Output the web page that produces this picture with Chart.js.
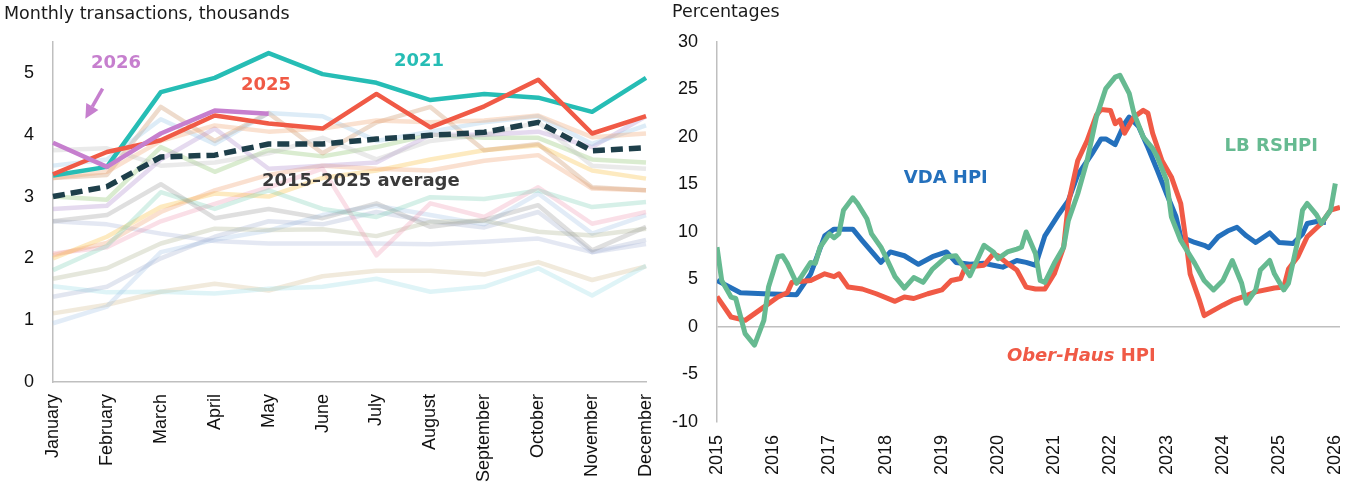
<!DOCTYPE html>
<html><head><meta charset="utf-8">
<script src="https://cdn.jsdelivr.net/npm/chart.js@4.4.1/dist/chart.umd.min.js"></script>
<style>
html,body{margin:0;padding:0;background:#fff;width:1345px;height:492px;overflow:hidden}
canvas{position:absolute;top:0}
#l{left:0}
#r{left:665px}
</style></head><body>
<canvas id="l" width="665" height="492" style="width:665px;height:492px"></canvas>
<canvas id="r" width="680" height="492" style="width:680px;height:492px"></canvas>
<script>
// ---------- Left chart data: monthly transactions, thousands ----------
const monthLabels = ['January','February','March','April','May','June','July','August','September','October','November','December'];
const yTicksLeft = [0,1,2,3,4,5];
const avg2015_2025 = [3.0,3.16,3.64,3.67,3.85,3.85,3.93,3.99,4.04,4.2,3.74,3.79];
const y2021 = [3.34,3.48,4.69,4.92,5.32,4.98,4.84,4.56,4.66,4.6,4.37,4.92];
const y2025 = [3.36,3.72,3.91,4.31,4.18,4.1,4.66,4.12,4.46,4.89,4.02,4.3];
const y2026 = [3.87,3.48,4.02,4.39,4.34];
// other years (faint lines)
const other1  = [1.11,1.25,1.46,1.59,1.48,1.71,1.80,1.80,1.74,1.94,1.65,1.87];
const other2  = [1.55,1.45,1.46,1.43,1.51,1.54,1.67,1.46,1.54,1.84,1.40,1.88];
const other3  = [0.95,1.22,2.1,2.3,2.45,2.7,2.85,2.7,2.55,3.05,2.4,2.7];
const other4  = [1.38,1.54,2.0,2.35,2.6,2.55,2.75,2.6,2.5,2.75,2.1,2.3];
const other5  = [1.67,1.84,2.24,2.48,2.46,2.47,2.36,2.59,2.61,2.43,2.37,2.48];
const other6  = [2.6,2.55,2.4,2.28,2.24,2.24,2.24,2.23,2.27,2.32,2.10,2.23];
const other7  = [2.08,2.18,2.6,2.88,3.15,3.45,2.05,2.89,2.67,3.15,2.56,2.75];
const other8  = [2.0,2.35,2.83,3.05,3.0,3.3,3.42,3.6,3.75,3.83,3.42,3.29];
const other9  = [2.05,2.25,2.75,3.1,3.35,3.5,3.45,3.42,3.58,3.67,3.13,3.1];
const other10 = [1.81,2.2,3.07,2.8,3.1,2.8,2.67,2.99,2.96,3.1,2.83,2.91];
const other11 = [2.6,2.7,3.2,2.65,2.8,2.65,2.89,2.51,2.62,2.86,2.13,2.51];
const other12 = [3.0,2.95,3.8,3.4,3.75,3.65,3.8,4.0,3.95,3.95,3.6,3.55];
const other13 = [3.3,3.35,4.45,3.9,4.35,3.7,4.2,4.45,3.75,3.85,3.15,3.1];
const other14 = [2.8,2.85,3.6,4.1,3.45,3.5,3.55,4.0,4.0,4.05,3.8,4.3];
const other15 = [3.5,3.6,4.25,3.85,4.35,4.3,3.9,4.05,4.2,4.3,3.85,4.15];
const other16 = [3.3,3.4,3.9,4.15,4.05,4.1,4.23,4.2,4.23,4.31,3.96,4.02];
const other17 = [3.75,3.78,3.5,3.55,3.7,3.95,3.6,3.9,4.0,4.2,3.5,3.45];

// ---------- Right chart data: house price growth, percentages ----------
const yearTicks = [2015,2016,2017,2018,2019,2020,2021,2022,2023,2024,2025,2026];
const vdaDates = ['2015-01','2015-06','2015-11','2016-06','2016-09','2016-12','2017-02','2017-06','2017-08','2017-12','2018-02','2018-05','2018-08','2018-11','2019-02','2019-04','2019-07','2019-10','2019-12','2020-02','2020-05','2020-07','2020-09','2020-11','2021-02','2021-04','2021-06','2021-09','2021-11','2021-12','2022-02','2022-04','2022-05','2022-07','2022-09','2022-11','2023-01','2023-03','2023-04','2023-07','2023-09','2023-10','2023-12','2024-02','2024-04','2024-06','2024-08','2024-11','2025-01','2025-04','2025-06','2025-07','2025-09','2025-11'];
const vdaValues = [4.9,3.6,3.5,3.4,5.6,9.6,10.3,10.3,9.1,6.8,7.9,7.5,6.6,7.4,7.9,6.8,6.6,6.7,6.5,6.3,7.0,6.8,6.5,9.6,11.9,13.3,16.0,18.2,19.8,19.8,19.2,21.4,22.1,21.1,18.9,16.5,14.0,11.6,9.5,8.9,8.6,8.35,9.5,10.1,10.5,9.6,8.9,9.9,8.9,8.8,9.8,10.9,11.1,11.0];
const oberDates = ['2015-01','2015-04','2015-07','2015-10','2016-02','2016-04','2016-05','2016-09','2016-12','2017-02','2017-03','2017-05','2017-08','2017-11','2018-03','2018-05','2018-07','2018-10','2019-01','2019-03','2019-05','2019-06','2019-10','2019-12','2020-01','2020-03','2020-05','2020-07','2020-09','2020-11','2021-01','2021-03','2021-04','2021-06','2021-08','2021-10','2021-11','2022-01','2022-02','2022-03','2022-04','2022-06','2022-08','2022-09','2022-10','2022-12','2023-02','2023-04','2023-05','2023-06','2023-08','2023-09','2023-11','2024-01','2024-03','2024-06','2024-08','2024-12','2025-02','2025-03','2025-05','2025-07','2025-10','2025-12','2026-02'];
const oberValues = [3.2,1.05,0.7,1.75,3.15,3.6,4.7,4.9,5.6,5.3,5.6,4.2,4.0,3.5,2.7,3.15,3.0,3.5,3.9,4.9,5.1,6.3,6.5,7.7,7.5,6.7,6.0,4.2,4.0,4.0,5.6,8.4,13.0,17.5,19.6,22.3,22.9,22.8,21.4,21.8,20.4,22.1,22.8,22.5,20.4,17.5,15.8,13.0,9.5,5.6,2.8,1.2,1.75,2.3,2.8,3.3,3.7,4.1,4.2,6.1,7.4,9.5,10.9,12.3,12.6];
const lbDates = ['2015-01','2015-02','2015-04','2015-05','2015-07','2015-09','2015-11','2015-12','2016-02','2016-03','2016-04','2016-06','2016-07','2016-09','2016-10','2016-11','2017-01','2017-02','2017-03','2017-04','2017-06','2017-07','2017-09','2017-10','2017-12','2018-01','2018-03','2018-05','2018-07','2018-09','2018-11','2019-02','2019-04','2019-07','2019-10','2019-12','2020-01','2020-03','2020-05','2020-06','2020-07','2020-09','2020-10','2020-11','2021-01','2021-03','2021-04','2021-06','2021-08','2021-10','2021-12','2022-02','2022-03','2022-05','2022-06','2022-08','2022-10','2022-11','2023-01','2023-02','2023-04','2023-07','2023-09','2023-11','2024-01','2024-03','2024-05','2024-06','2024-08','2024-09','2024-11','2024-12','2025-02','2025-03','2025-05','2025-06','2025-07','2025-09','2025-10','2025-12','2026-01'];
const lbValues = [8.4,4.9,3.15,3.0,-0.7,-1.9,0.7,4.2,7.4,7.5,6.7,4.6,5.3,6.8,6.7,8.4,9.8,9.4,9.8,12.3,13.6,13.0,11.4,9.8,8.4,7.4,5.3,4.1,5.2,4.7,6.1,7.4,7.5,5.4,8.6,7.9,7.2,7.9,8.2,8.4,10.0,7.7,4.9,4.7,6.7,8.4,11.2,14.0,17.5,22.1,25.1,26.3,26.5,24.6,22.5,20.0,18.8,17.9,15.4,11.6,9.1,6.7,4.9,3.9,4.9,7.0,4.6,2.5,3.9,6.0,7.0,5.6,3.9,4.6,9.1,12.3,13.0,11.8,10.9,12.3,15.1];

// ---------- helpers ----------
function toYear(s){ const [y,m] = s.split('-').map(Number); return y + (m-1)/12; }
function pts(dates, vals){ return dates.map((d,i)=>({x: toYear(d), y: vals[i]})); }

const TICK_FONT = {family:'"Liberation Sans", Arial, sans-serif', size:18};
const TITLE_FONT = '17.5px "DejaVu Sans", sans-serif';
const NOTE_FONT = 'bold 18px "DejaVu Sans", sans-serif';

const notesPlugin = {
  id: 'notes',
  afterDatasetsDraw(chart, args, opts){
    const ctx = chart.ctx, xs = chart.scales.x, ys = chart.scales.y;
    ctx.save();
    if (opts.title){
      ctx.font = TITLE_FONT; ctx.fillStyle = '#1a1a1a';
      ctx.textAlign = 'left'; ctx.textBaseline = 'alphabetic';
      ctx.fillText(opts.title.text, opts.title.left, opts.title.baseline);
    }
    (opts.items||[]).forEach(it=>{
      if (it.arrow){
        const x1 = xs.getPixelForValue(it.from[0]), y1 = ys.getPixelForValue(it.from[1]);
        const x2 = xs.getPixelForValue(it.to[0]), y2 = ys.getPixelForValue(it.to[1]);
        const ang = Math.atan2(y2-y1, x2-x1), hl = 14, hw = 7;
        const bx = x2 - hl*Math.cos(ang), by = y2 - hl*Math.sin(ang);
        ctx.strokeStyle = it.color; ctx.lineWidth = 3.5; ctx.lineCap='butt';
        ctx.beginPath(); ctx.moveTo(x1,y1); ctx.lineTo(bx,by); ctx.stroke();
        ctx.fillStyle = it.color; ctx.beginPath();
        ctx.moveTo(x2,y2);
        ctx.lineTo(bx + hw*Math.sin(ang), by - hw*Math.cos(ang));
        ctx.lineTo(bx - hw*Math.sin(ang), by + hw*Math.cos(ang));
        ctx.closePath(); ctx.fill();
        return;
      }
      const px = xs.getPixelForValue(it.x), py = ys.getPixelForValue(it.y);
      const segs = it.segs || [{text: it.text, font: NOTE_FONT}];
      let total = 0;
      segs.forEach(s=>{ ctx.font = s.font; total += ctx.measureText(s.text).width; });
      let cx = px - total/2;
      ctx.textAlign = 'left'; ctx.textBaseline = 'middle'; ctx.fillStyle = it.color;
      segs.forEach(s=>{ ctx.font = s.font; ctx.fillText(s.text, cx, py); cx += ctx.measureText(s.text).width; });
    });
    ctx.restore();
  }
};

// ---------- Left chart ----------
const faint = [
  [other17,'rgba(190,190,190,0.32)'],
  [other16,'rgba(240,170,120,0.35)'],
  [other15,'rgba(150,195,230,0.32)'],
  [other14,'rgba(180,150,210,0.35)'],
  [other13,'rgba(210,160,120,0.38)'],
  [other12,'rgba(150,200,120,0.35)'],
  [other11,'rgba(150,150,150,0.30)'],
  [other10,'rgba(120,205,180,0.30)'],
  [other9, 'rgba(240,160,110,0.32)'],
  [other8, 'rgba(250,200,90,0.38)'],
  [other7, 'rgba(240,150,175,0.30)'],
  [other6, 'rgba(165,180,215,0.30)'],
  [other5, 'rgba(170,175,140,0.30)'],
  [other4, 'rgba(150,165,200,0.28)'],
  [other3, 'rgba(150,185,225,0.28)'],
  [other2, 'rgba(140,215,225,0.28)'],
  [other1, 'rgba(205,180,130,0.28)']
];
const leftDatasets = [
  {data:y2026, borderColor:'#C67FCE', borderWidth:4.5},
  {data:y2025, borderColor:'#F05A46', borderWidth:4.5},
  {data:y2021, borderColor:'#26BDB5', borderWidth:4.5},
  {data:avg2015_2025, borderColor:'#1E3F4A', borderWidth:5.5, borderDash:[12,6]}
].concat(faint.map(f=>({data:f[0], borderColor:f[1], borderWidth:4.5})));
leftDatasets.forEach(d=>{ d.pointRadius=0; d.tension=0; d.fill=false; d.borderJoinStyle='round'; });

new Chart(document.getElementById('l'), {
  type:'line',
  data:{labels:monthLabels, datasets:leftDatasets},
  plugins:[notesPlugin],
  options:{
    responsive:false, animation:false, devicePixelRatio:1,
    layout:{padding:{top:42, right:19, left:0, bottom:0}},
    plugins:{
      legend:{display:false}, tooltip:{enabled:false},
      notes:{
        title:{text:'Monthly transactions, thousands', left:4, baseline:18.5},
        items:[
          {text:'2026', x:1.17, y:5.16, color:'#C67FCE'},
          {text:'2025', x:3.95, y:4.80, color:'#F05A46'},
          {text:'2021', x:6.79, y:5.19, color:'#26BDB5'},
          {text:'2015–2025 average', x:5.71, y:3.25, color:'#3A3A3A'},
          {arrow:true, from:[0.92,4.745], to:[0.60,4.26], color:'#C67FCE'}
        ]
      }
    },
    scales:{
      x:{
        offset:false,
        grid:{display:false, drawTicks:false},
        border:{display:true, color:'#BFBFBF', width:1.5},
        ticks:{autoSkip:false, maxRotation:90, minRotation:90, padding:12, color:'#111', font:TICK_FONT},
        afterFit(s){ s.height = 110; s.paddingLeft = 0; s.paddingRight = 0; }
      },
      y:{
        min:0, max:5.5,
        grid:{display:false, drawTicks:false},
        border:{display:true, color:'#BFBFBF', width:1.5},
        afterBuildTicks(s){ s.ticks = yTicksLeft.map(v=>({value:v})); },
        ticks:{padding:19, color:'#111', font:TICK_FONT, callback:v=>String(v)},
        afterFit(s){ s.width = 53; }
      }
    }
  }
});

// ---------- Right chart ----------
const rightDatasets = [
  {data:pts(lbDates, lbValues), borderColor:'#66BA91'},
  {data:pts(oberDates, oberValues), borderColor:'#F05A46'},
  {data:pts(vdaDates, vdaValues), borderColor:'#2470BC'}
];
rightDatasets.forEach(d=>{ d.pointRadius=0; d.tension=0; d.fill=false; d.borderWidth=5; d.borderJoinStyle='round'; });

new Chart(document.getElementById('r'), {
  type:'line',
  data:{datasets:rightDatasets},
  plugins:[notesPlugin],
  options:{
    responsive:false, animation:false, devicePixelRatio:1,
    layout:{padding:{top:42, right:5, left:0, bottom:0}},
    plugins:{
      legend:{display:false}, tooltip:{enabled:false},
      notes:{
        title:{text:'Percentages', left:7, baseline:17},
        items:[
          {text:'VDA HPI', x:2019.07, y:15.6, color:'#2470BC'},
          {text:'LB RSHPI', x:2024.86, y:18.97, color:'#66BA91'},
          {segs:[{text:'Ober-Haus', font:'italic bold 18px "DejaVu Sans", sans-serif'},{text:' HPI', font:NOTE_FONT}], x:2021.48, y:-3.08, color:'#F05A46'}
        ]
      }
    },
    scales:{
      x:{
        type:'linear', min:2015, max:toYear('2026-02'),
        grid:{display:false, drawTicks:false},
        border:{display:false},
        afterBuildTicks(s){ s.ticks = yearTicks.map(v=>({value:v})); },
        ticks:{autoSkip:false, maxRotation:90, minRotation:90, padding:13, color:'#111', font:TICK_FONT, callback:v=>String(v)},
        afterFit(s){ s.height = 70; s.paddingLeft = 0; s.paddingRight = 0; }
      },
      y:{
        min:-10, max:30,
        grid:{drawTicks:false, lineWidth:1.5, color:c=> (c.tick && c.tick.value===0) ? '#BFBFBF' : 'rgba(0,0,0,0)'},
        border:{display:true, color:'#BFBFBF', width:1.5},
        ticks:{stepSize:5, padding:19, color:'#111', font:TICK_FONT, callback:v=>String(v)},
        afterFit(s){ s.width = 52; }
      }
    }
  }
});
</script>
</body></html>
